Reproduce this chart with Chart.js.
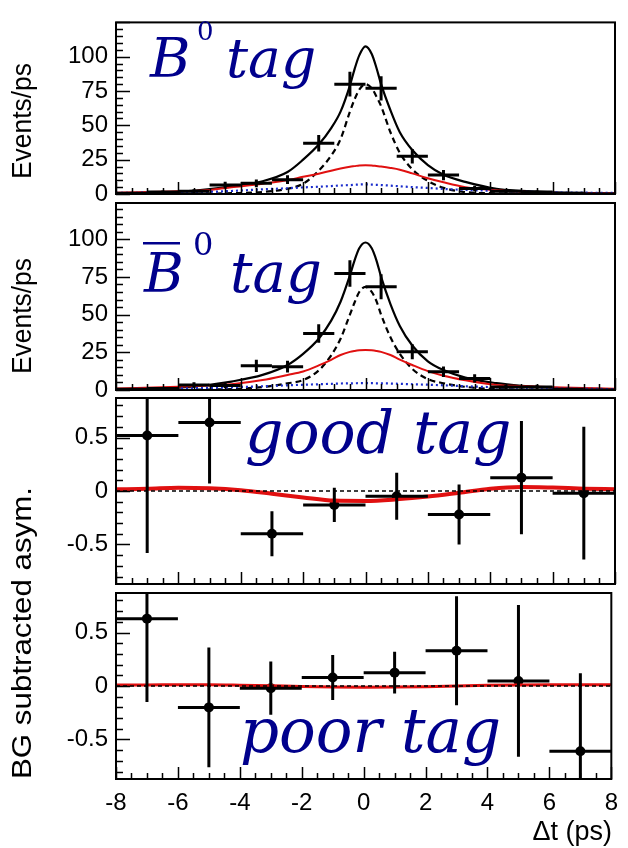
<!DOCTYPE html>
<html>
<head>
<meta charset="utf-8">
<script src="https://cdn.jsdelivr.net/npm/chart.js@4.4.1/dist/chart.umd.min.js"></script>
<style>
  html, body { margin: 0; padding: 0; background: #fff; }
  #wrap { position: relative; width: 628px; height: 848px; }
  #wrap canvas { position: absolute; left: 0; top: 0; }
</style>
</head>
<body>
<div id="wrap">
  <canvas id="p1" width="628" height="848"></canvas>
  <canvas id="p2" width="628" height="848"></canvas>
  <canvas id="p3" width="628" height="848"></canvas>
  <canvas id="p4" width="628" height="848"></canvas>
</div>
<script>
// ---- data ----
const xTicks = [-8, -6, -4, -2, 0, 2, 4, 6, 8];
const countTicks = [0, 25, 50, 75, 100];
const asymTicks = [-0.5, 0, 0.5];

// fit curves (events/ps), sampled in dt (ps)
const tGrid = [-8, -6, -5, -4.3, -3.3, -2.5, -2, -1.5, -1.1, -0.8, -0.5, -0.35, -0.2, 0,
               0.2, 0.35, 0.5, 0.8, 1.1, 1.5, 2, 2.5, 3.2, 4.2, 5, 6, 8];
const b0Total = [0.5, 1.5, 3.5, 5.5, 9.3, 16, 25, 36, 48, 60, 79, 91, 101, 107.5,
                 102, 92, 80, 61, 45, 32, 21, 14, 8.8, 3.8, 2.3, 1.2, 0.4];
const b0Sig = [0, 0.1, 0.3, 0.6, 1.5, 3.8, 7.5, 17, 28, 40, 60, 69, 76, 80,
               77, 71, 64, 45, 30, 18, 9.5, 4.5, 1.4, 0.5, 0.2, 0.1, 0];
const b0Bkg = [1, 2, 3, 4.9, 7.5, 10, 12.5, 14.8, 17, 18.5, 19.8, 20.3, 20.8, 21,
               20.8, 20.4, 20, 19, 17.7, 15, 11.5, 8.5, 5, 2.7, 1.7, 1, 0.5];
const b0Out = [0.8, 1.2, 1.6, 2.2, 3.4, 4.2, 4.8, 5.3, 5.8, 6.2, 6.5, 6.7, 6.9, 7,
               6.9, 6.7, 6.5, 6.1, 5.6, 5, 4.4, 3.7, 3, 2.2, 1.7, 1.2, 0.8];

const bbTotal = [0.5, 1.5, 3.5, 5.6, 10, 16.6, 24, 34, 46, 58.5, 76, 86, 94, 97.8,
                 94, 86, 75, 57, 42.5, 29.5, 19, 13.2, 8.2, 4.5, 2.8, 1.5, 0.5];
const bbSig = [0, 0.1, 0.3, 0.6, 2, 4.4, 6.6, 13, 23, 34, 50, 58, 65, 68.4,
               65, 59, 50, 35, 24, 14, 7.2, 4.5, 2.1, 0.6, 0.3, 0.1, 0];
const bbBkg = [1, 2.2, 3, 3.8, 6.6, 10, 12.3, 16.3, 20, 23.2, 25.3, 25.9, 26.3, 26.5,
               26.3, 25.9, 25.3, 23.2, 20.2, 16.6, 12.5, 9.5, 6.5, 3.4, 2.6, 1.8, 0.8];
const bbOut = [0.6, 1, 1.4, 1.8, 2.5, 3.1, 3.5, 3.8, 4.1, 4.3, 4.4, 4.45, 4.5, 4.5,
               4.5, 4.45, 4.4, 4.3, 4.1, 3.8, 3.5, 3.1, 2.5, 1.8, 1.4, 1, 0.6];

// binned data, 1 ps bins
const binCenters = [-7.5, -6.5, -5.5, -4.5, -3.5, -2.5, -1.5, -0.5, 0.5, 1.5, 2.5, 3.5, 4.5, 5.5, 6.5, 7.5];
const b0Counts = [0.5, 1.5, 2, 6.5, 7.8, 10.4, 37, 80, 77, 27.5, 13.8, 4, 2, 1.5, 0.5, 0];
const b0Errs   = [0.7, 1.2, 1.4, 2.5, 2.8, 3.2, 6, 9, 8.8, 5.2, 3.7, 2, 1.4, 1.2, 0.7, 0];
const bbCounts = [0.5, 1, 3.3, 3, 16, 15.5, 37.5, 77.3, 68.4, 25.4, 12.1, 7.7, 2, 2, 0.5, 0];
const bbErrs   = [0.7, 1, 1.8, 1.7, 4, 3.9, 6.1, 8.8, 8.3, 5, 3.5, 2.8, 1.4, 1.4, 0.7, 0];

// asymmetry, 2 ps bins
const asymCenters = [-7, -5, -3, -1, 1, 3, 5, 7];
const goodAsym = [0.52, 0.64, -0.40, -0.13, -0.05, -0.22, 0.125, -0.02];
const goodErr  = [1.1, 0.57, 0.21, 0.16, 0.22, 0.28, 0.53, 0.62];
const poorAsym = [0.63, -0.20, -0.02, 0.08, 0.125, 0.33, 0.047, -0.61];
const poorErr  = [0.78, 0.56, 0.25, 0.21, 0.195, 0.51, 0.71, 0.73];

const fitGrid = [-8, -7, -6, -5, -4, -3, -2, -1, 0, 1, 2, 3, 4, 5, 6, 7, 8];
const goodFit = [0.016, 0.02, 0.03, 0.025, 0.007, -0.025, -0.06, -0.09, -0.093, -0.078, -0.052, -0.016, 0.022, 0.038, 0.032, 0.022, 0.016];
const poorFit = [0.01, 0.01, 0.012, 0.012, 0.008, 0.002, -0.005, -0.01, -0.012, -0.01, -0.006, 0, 0.006, 0.01, 0.012, 0.012, 0.012];
const zeroLine = [0, 0];
const zeroX = [-8, 8];

// ---- layout / style ----
const W = 628, H = 848, LEFT = 116, RIGHT = 615;
const NAVY = '#00008c', RED = '#e01010', BLUE = '#1a2ccc';
const SANS = '"Liberation Sans", Arial, sans-serif';
const TICK_FONT = { family: SANS, size: 24 };

const pts = (xs, ys) => xs.map((x, i) => ({ x: x, y: ys[i] }));

function curve(xs, ys, color, width, dash) {
    return {
        data: pts(xs, ys), showLine: true, pointRadius: 0,
        borderColor: color, borderWidth: width, borderDash: dash || [],
        cubicInterpolationMode: 'monotone', fill: false
    };
}

function points(xs, ys, errs, halfWidth, radius) {
    return {
        data: pts(xs, ys), showLine: false,
        pointRadius: radius, pointBackgroundColor: '#000', pointBorderWidth: 0,
        yErr: errs, xErr: halfWidth
    };
}

// error bars, inner ticks and frame
const frame = {
    id: 'frame',
    afterDatasetsDraw(chart) {
        const { ctx, chartArea: a, scales: { x, y } } = chart;
        ctx.save();
        ctx.beginPath();
        ctx.rect(a.left, a.top, a.right - a.left, a.bottom - a.top);
        ctx.clip();
        ctx.strokeStyle = '#000';
        ctx.lineWidth = 3;
        chart.data.datasets.forEach(ds => {
            if (!ds.yErr) return;
            ds.data.forEach((p, i) => {
                const px = x.getPixelForValue(p.x), py = y.getPixelForValue(p.y);
                ctx.beginPath();
                ctx.moveTo(x.getPixelForValue(p.x - ds.xErr), py);
                ctx.lineTo(x.getPixelForValue(p.x + ds.xErr), py);
                if (ds.yErr[i] > 0) {
                    ctx.moveTo(px, y.getPixelForValue(p.y - ds.yErr[i]));
                    ctx.lineTo(px, y.getPixelForValue(p.y + ds.yErr[i]));
                }
                ctx.stroke();
            });
        });
        ctx.restore();

        ctx.save();
        ctx.strokeStyle = '#000';
        ctx.lineWidth = 1.5;
        ctx.beginPath();
        const t = chart.options.innerTicks;
        for (let v = x.min; v <= x.max + 1e-9; v += 0.5) {
            const px = Math.round(x.getPixelForValue(v)) + 0.5;
            const len = Math.abs(v % 2) < 1e-9 ? 12 : 6;
            ctx.moveTo(px, a.bottom); ctx.lineTo(px, a.bottom - len);
        }
        const n = Math.round((y.max - t.start) / t.minor);
        for (let k = 0; k <= n; k++) {
            const v = t.start + k * t.minor;
            if (v < y.min - 1e-9 || v > y.max + 1e-9) continue;
            const py = Math.round(y.getPixelForValue(v)) + 0.5;
            const major = Math.abs(v / t.major - Math.round(v / t.major)) < 1e-6;
            ctx.moveTo(a.left, py); ctx.lineTo(a.left + (major ? 14 : 7), py);
        }
        ctx.stroke();
        ctx.lineWidth = 2;
        ctx.strokeRect(a.left, a.top, a.right - a.left, a.bottom - a.top);
        ctx.restore();
    }
};

function makePanel(id, box, yMin, yMax, yTicks, tickInfo, datasets, drawLabels, showX) {
    const xHeight = showX ? 60 : 0;
    return new Chart(document.getElementById(id).getContext('2d'), {
        type: 'scatter',
        data: { datasets: datasets },
        options: {
            responsive: false, animation: false, events: [], devicePixelRatio: 1,
            innerTicks: tickInfo,
            layout: { padding: { left: 0, right: W - RIGHT, top: box.top, bottom: H - box.bottom - xHeight } },
            plugins: { legend: { display: false }, tooltip: { enabled: false } },
            scales: {
                x: {
                    type: 'linear', min: -8, max: 8, display: showX,
                    grid: { display: false, drawTicks: false }, border: { display: false },
                    afterBuildTicks: s => { s.ticks = xTicks.map(v => ({ value: v })); },
                    afterFit: s => { s.height = xHeight; },
                    ticks: { color: '#000', font: TICK_FONT, padding: 10, maxRotation: 0, autoSkip: false }
                },
                y: {
                    type: 'linear', min: yMin, max: yMax,
                    grid: { display: false, drawTicks: false }, border: { display: false },
                    afterBuildTicks: s => { s.ticks = yTicks.map(v => ({ value: v })); },
                    afterFit: s => { s.width = LEFT; },
                    ticks: { color: '#000', font: TICK_FONT, padding: 8 }
                }
            }
        },
        plugins: [frame, { id: 'labels', afterDraw: c => drawLabels(c.ctx) }]
    });
}

// rotated axis title, stretched along its length to span the given extent
function rotated(ctx, text, x, y, size, span) {
    ctx.save();
    ctx.translate(x, y);
    ctx.rotate(-Math.PI / 2);
    ctx.fillStyle = '#000';
    ctx.font = size + 'px ' + SANS;
    ctx.textAlign = 'center';
    ctx.textBaseline = 'middle';
    ctx.scale(span / ctx.measureText(text).width, 1);
    ctx.fillText(text, 0, 0);
    ctx.restore();
}

const serif = (size, italic) => (italic ? 'italic ' : '') + size + 'px "DejaVu Serif", serif';

const countTickInfo = { start: 0, minor: 5, major: 25 };
const asymTickInfo = { start: -0.8, minor: 0.1, major: 0.5 };

makePanel('p1', { top: 7, bottom: 194 }, 0, 125, countTicks, countTickInfo, [
    curve(tGrid, b0Out, BLUE, 2.2, [2, 3]),
    curve(tGrid, b0Bkg, RED, 2),
    curve(tGrid, b0Sig, '#000', 2.2, [6, 4]),
    curve(tGrid, b0Total, '#000', 2.2),
    points(binCenters, b0Counts, b0Errs, 0.5, 0)
], ctx => {
    rotated(ctx, 'Events/ps', 24, 121, 27, 116);
    ctx.fillStyle = NAVY;
    ctx.textBaseline = 'alphabetic';
    ctx.font = serif(55, true);
    ctx.fillText('B', 150, 77);
    ctx.font = serif(26, false);
    ctx.fillText('0', 197, 40);
    ctx.font = serif(55, true);
    ctx.fillText('tag', 226, 77);
}, false);

makePanel('p2', { top: 203, bottom: 390 }, 0, 124, countTicks, countTickInfo, [
    curve(tGrid, bbOut, BLUE, 2.2, [2, 3]),
    curve(tGrid, bbBkg, RED, 2),
    curve(tGrid, bbSig, '#000', 2.2, [6, 4]),
    curve(tGrid, bbTotal, '#000', 2.2),
    points(binCenters, bbCounts, bbErrs, 0.5, 0)
], ctx => {
    rotated(ctx, 'Events/ps', 24, 316, 27, 116);
    ctx.fillStyle = NAVY;
    ctx.textBaseline = 'alphabetic';
    ctx.fillRect(143, 242, 37, 2.5);
    ctx.font = serif(54, true);
    ctx.fillText('B', 144, 292);
    ctx.font = serif(32, false);
    ctx.fillText('0', 193, 255);
    ctx.font = serif(56, true);
    ctx.fillText('tag', 230, 292);
}, false);

makePanel('p3', { top: 398, bottom: 584 }, -0.87, 0.87, asymTicks, asymTickInfo, [
    curve(zeroX, zeroLine, '#000', 1.5, [4, 3]),
    curve(fitGrid, goodFit, RED, 4),
    points(asymCenters, goodAsym, goodErr, 1, 5)
], ctx => {
    rotated(ctx, 'BG subtracted asym.', 24, 633, 27, 292);
    ctx.fillStyle = NAVY;
    ctx.textBaseline = 'alphabetic';
    ctx.font = serif(60, true);
    ctx.fillText('good tag', 245, 453);
}, false);

makePanel('p4', { top: 593, bottom: 779 }, -0.87, 0.87, asymTicks, asymTickInfo, [
    curve(zeroX, zeroLine, '#000', 1.5, [4, 3]),
    curve(fitGrid, poorFit, RED, 3),
    points(asymCenters, poorAsym, poorErr, 1, 5)
], ctx => {
    ctx.fillStyle = NAVY;
    ctx.textBaseline = 'alphabetic';
    ctx.font = serif(61, true);
    ctx.fillText('poor tag', 240, 752);
    ctx.fillStyle = '#000';
    ctx.font = '27px ' + SANS;
    ctx.textAlign = 'right';
    ctx.fillText('\u0394t (ps)', 612, 840);
}, true);
</script>
</body>
</html>
